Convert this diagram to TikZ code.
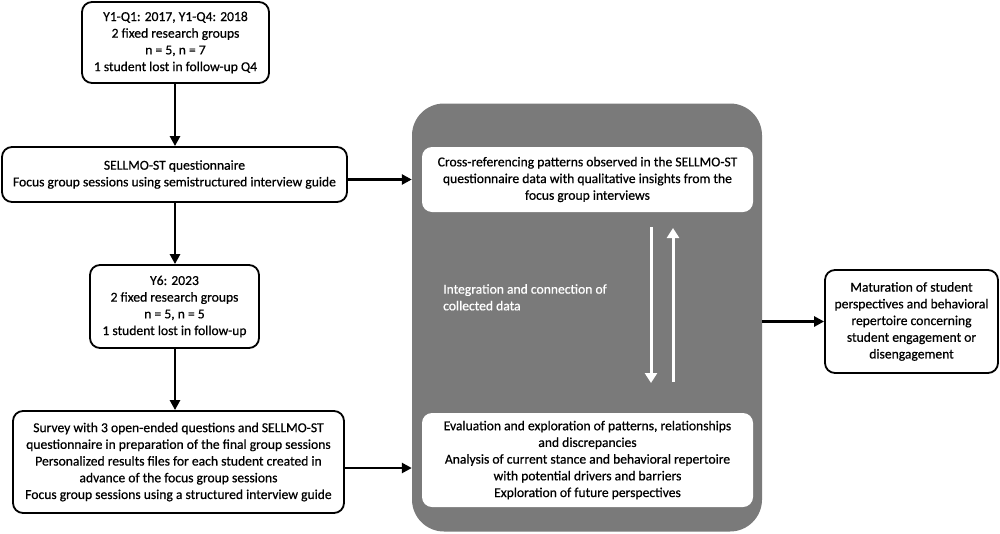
\documentclass[tikz,border=0pt]{standalone}
\usepackage{fontspec}
\setmainfont{Carlito}
\newfontfamily\semibold{Carlito}[FakeBold=0.6]
\usetikzlibrary{arrows.meta}
\definecolor{panelgray}{RGB}{122,122,122}
\begin{document}
\begin{tikzpicture}[x=1pt,y=-1pt,
  txt/.style={font=\semibold\fontsize{13.6}{16.7}\selectfont},
  box/.style={txt,draw=black,line width=1.8pt,rounded corners=10pt,fill=white,align=center,inner sep=2pt},
  inbox/.style={txt,fill=white,rounded corners=10pt,align=center,inner sep=2pt},
  flow/.style={line width=2.8pt,-{Triangle[length=10pt,width=10pt]}},
  wflow/.style={draw=white,line width=3pt,-{Triangle[length=10pt,width=12pt]}}]
\useasboundingbox (0,0) rectangle (1000,533);
\node[box,minimum width=187pt,minimum height=81pt] (b1) at (175.5,42.5)
  {Y1-Q1: 2017, Y1-Q4: 2018\\2 fixed research groups\\n = 5, n = 7\\1 student lost in follow-up Q4};
\node[box,minimum width=345pt,minimum height=55pt] (b2) at (174.5,174.5)
  {SELLMO-ST questionnaire\\Focus group sessions using semistructured interview guide};
\node[box,minimum width=169pt,minimum height=83pt] (b3) at (174.5,306.5)
  {Y6: 2023\\2 fixed research groups\\n = 5, n = 5\\1 student lost in follow-up};
\node[box,minimum width=331pt,minimum height=102pt] (b4) at (178.5,462)
  {Survey with 3 open-ended questions and SELLMO-ST\\questionnaire in preparation of the final group sessions\\Personalized results files for each student created in\\advance of the focus group sessions\\Focus group sessions using a structured interview guide};
\node[fill=panelgray,rounded corners=32pt,minimum width=350pt,minimum height=428pt] (gray) at (587,317.5) {};
\node[inbox,minimum width=331pt,minimum height=65pt] (i1) at (587.5,179.5)
  {Cross-referencing patterns observed in the SELLMO-ST\\questionnaire data with qualitative insights from the\\focus group interviews};
\node[inbox,minimum width=331pt,minimum height=94pt] (i2) at (587.5,460)
  {Evaluation and exploration of patterns, relationships\\and discrepancies\\Analysis of current stance and behavioral repertoire\\with potential drivers and barriers\\Exploration of future perspectives};
\node[txt,anchor=north west,text=white,align=left,inner sep=0pt] (lab) at (443,284)
  {Integration and connection of\\collected data};
\node[box,minimum width=173pt,minimum height=103pt] (b5) at (911.5,321.5)
  {Maturation of student\\perspectives and behavioral\\repertoire concerning\\student engagement or\\disengagement};
\coordinate (d1) at (651,227);
\coordinate (d2) at (651,383);
\coordinate (u1) at (673,382);
\coordinate (u2) at (673,228);
\coordinate (c4) at (344,468);
\coordinate (t2) at (175,0);
\draw[flow] (b1.south -| t2) -- (b2.north -| t2);
\draw[flow] (b2.south -| t2) -- (b3.north -| t2);
\draw[flow] (b3.south -| t2) -- (b4.north -| t2);
\draw[flow] (b2.east |- i1) -- (gray.west |- i1);
\draw[flow] (c4) -- (gray.west |- c4);
\draw[flow] (gray.east |- b5) -- (b5.west);
\draw[wflow] (d1) -- (d2);
\draw[wflow] (u1) -- (u2);
\end{tikzpicture}
\end{document}
